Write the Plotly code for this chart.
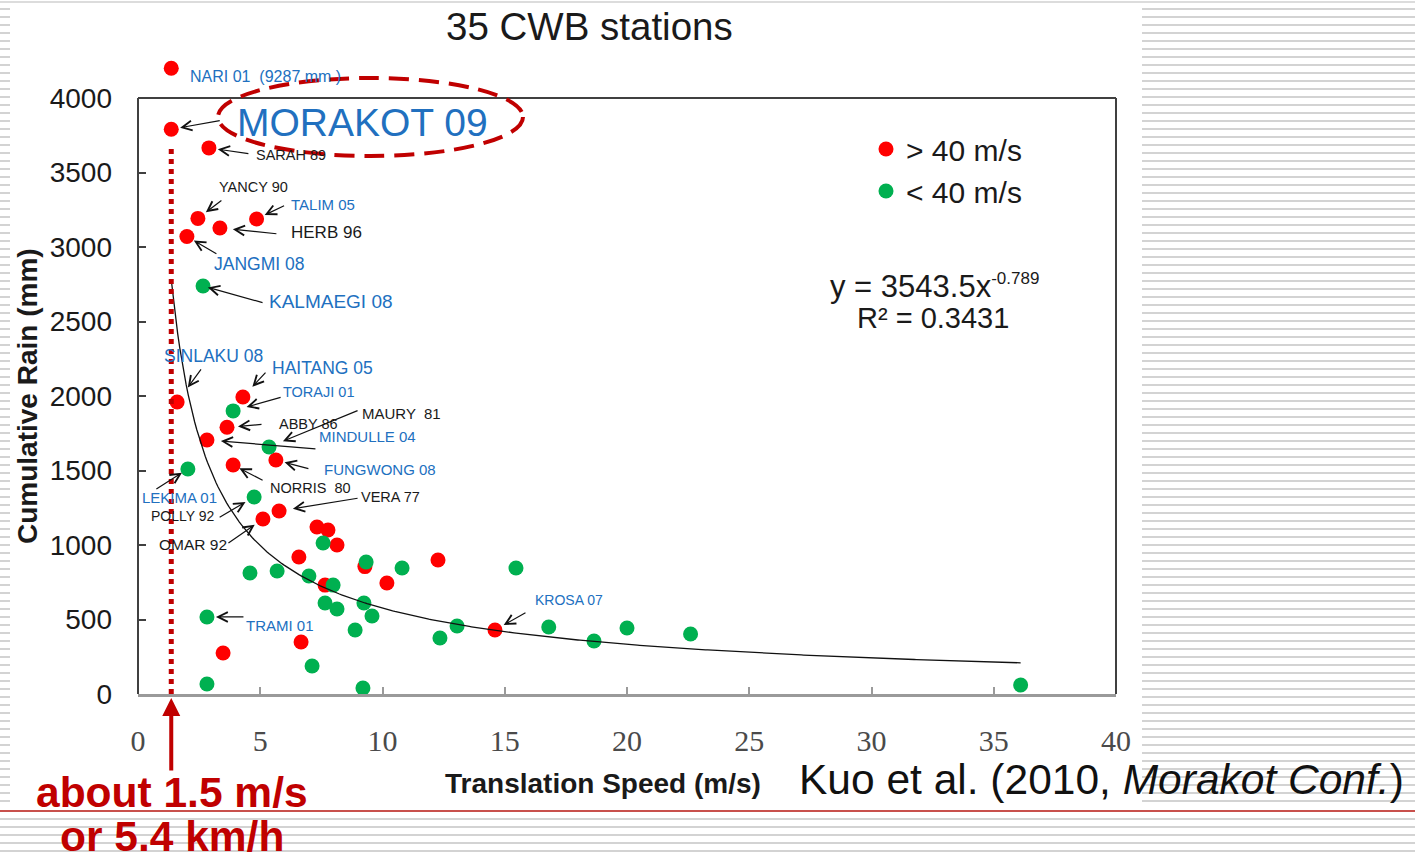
import numpy as np
import plotly.graph_objects as go

# ---------------- data ----------------
# typhoons with max wind > 40 m/s (red); NARI 01 is drawn off-scale just above the frame
red_speed = [1.36, 1.36, 2.9, 2.45, 4.85, 3.35, 2.0, 1.6, 4.29, 3.64, 2.82, 5.64, 3.89,
             5.77, 5.11, 7.32, 7.77, 8.14, 6.58, 9.28, 12.27, 7.65, 10.18, 6.67, 3.48, 14.6]
red_rain = [4200, 3790, 3665, 3192, 3188, 3128, 3070, 1960, 1993, 1790, 1705, 1570, 1537,
            1228, 1174, 1121, 1101, 1000, 919, 855, 899, 731, 745, 349, 275, 430]
red_name = ["NARI 01", "MORAKOT 09", "SARAH 89", "YANCY 90", "TALIM 05", "HERB 96",
            "JANGMI 08", "SINLAKU 08", "HAITANG 05", "ABBY 86", "MINDULLE 04",
            "FUNGWONG 08", "NORRIS  80", "VERA 77", "OMAR 92", "", "", "", "", "", "",
            "", "", "", "", "KROSA 07"]

# typhoons with max wind < 40 m/s (green)
green_speed = [2.66, 3.89, 5.36, 2.04, 4.75, 7.57, 9.33, 10.8, 4.58, 5.69, 6.99, 7.98,
               7.65, 8.14, 9.24, 9.57, 8.88, 2.82, 12.35, 13.05, 7.12, 2.82, 9.2, 15.46,
               16.8, 18.65, 20.0, 22.6, 36.1]
green_rain = [2738, 1900, 1658, 1510, 1322, 1013, 886, 846, 812, 826, 792, 731, 611, 570,
              611, 523, 430, 517, 376, 456, 188, 67, 40, 846, 450, 356, 443, 403, 60]
green_name = ["KALMAEGI 08", "TORAJI 01", "MAURY  81", "LEKIMA 01", "POLLY 92", "", "", "",
              "", "", "", "", "", "", "", "", "", "TRAMI 01", "", "", "", "", "", "", "",
              "", "", "", ""]

# power-law fit shown on the chart
FIT_A = 3543.5
FIT_B = -0.789
FIT_R2 = 0.3431

x_ticks = [0, 5, 10, 15, 20, 25, 30, 35, 40]
y_ticks = [0, 500, 1000, 1500, 2000, 2500, 3000, 3500, 4000]
Y_MAX_FRAME = 4000

# ---------------- layout geometry (pixels) ----------------
W, H = 1415, 854
L, R, T, B = 138, 1116, 98, 694      # frame of the chart (0..40, 0..4000)
TT = 38                               # plotting area extends above the frame (off-scale point)
Y_TOP = Y_MAX_FRAME * (B - TT) / (B - T)


def PX(x):
    return (x - L) / (R - L)


def PY(y):
    return (B - y) / (B - TT)


BLUE = "#2170BF"
BLACK = "#1a1a1a"
DRED = "#C00000"
SANS = "Liberation Sans, Arial, sans-serif"
SERIF = "Liberation Serif, Times New Roman, serif"

fig = go.Figure()

fig.add_trace(go.Scatter(
    x=red_speed, y=red_rain, mode="markers", name="> 40 m/s",
    marker=dict(color="#FF0000", size=15, line=dict(width=0)), cliponaxis=False))
fig.add_trace(go.Scatter(
    x=green_speed, y=green_rain, mode="markers", name="< 40 m/s",
    marker=dict(color="#00B050", size=15, line=dict(width=0)), cliponaxis=False))

all_speed = red_speed + green_speed
xs = np.linspace(min(all_speed), max(all_speed), 400)
fig.add_trace(go.Scatter(
    x=xs, y=FIT_A * xs ** FIT_B, mode="lines", showlegend=False,
    line=dict(color="#111111", width=1.3), hoverinfo="skip"))

# ---------------- annotations ----------------
ann = []
# label placement: key, text, left px, center y px, font size, colour
labels = [
    ("NARI 01", "NARI 01  (9287 mm )", 188, 76, 16, BLUE),
    ("SARAH 89", "SARAH 89", 254, 155, 14.5, BLACK),
    ("YANCY 90", "YANCY 90", 217, 187, 14.5, BLACK),
    ("TALIM 05", "TALIM 05", 289, 205, 15, BLUE),
    ("HERB 96", "HERB 96", 289, 232, 17, BLACK),
    ("JANGMI 08", "JANGMI 08", 212, 264, 17.5, BLUE),
    ("KALMAEGI 08", "KALMAEGI 08", 267, 301, 19, BLUE),
    ("SINLAKU 08", "SINLAKU 08", 162, 356, 17.5, BLUE),
    ("HAITANG 05", "HAITANG 05", 270, 368, 17.5, BLUE),
    ("TORAJI 01", "TORAJI 01", 281, 392, 14.5, BLUE),
    ("MAURY  81", "MAURY  81", 360, 413, 15, BLACK),
    ("ABBY 86", "ABBY 86", 277, 424, 14.5, BLACK),
    ("MINDULLE 04", "MINDULLE 04", 317, 436, 15, BLUE),
    ("FUNGWONG 08", "FUNGWONG 08", 322, 469, 15, BLUE),
    ("NORRIS  80", "NORRIS  80", 268, 488, 14.5, BLACK),
    ("VERA 77", "VERA 77", 359, 497, 14.5, BLACK),
    ("LEKIMA 01", "LEKIMA 01", 140, 497, 15, BLUE),
    ("POLLY 92", "POLLY 92", 149, 516, 14, BLACK),
    ("OMAR 92", "OMAR 92", 157, 544, 15.5, BLACK),
    ("TRAMI 01", "TRAMI 01", 244, 625, 15, BLUE),
    ("KROSA 07", "KROSA 07", 533, 600, 14, BLUE),
]
for key, text, lx, cy, size, col in labels:
    ann.append(dict(x=PX(lx), y=PY(cy), xref="paper", yref="paper", text=text,
                    showarrow=False, xanchor="left", yanchor="middle",
                    font=dict(family=SANS, size=size, color=col)))

# arrows: name -> (tail dx px, tail dy px, standoff px)
arrows = {
    "MORAKOT 09": (50, -9, 9),
    "SARAH 89": (41, 6, 9),
    "YANCY 90": (25, -19, 10),
    "TALIM 05": (29, -14, 9),
    "HERB 96": (58, 6, 13),
    "JANGMI 08": (31, 18, 8),
    "KALMAEGI 08": (61, 17, 5),
    "SINLAKU 08": (25, -34, 18),
    "HAITANG 05": (24, -26, 14),
    "TORAJI 01": (49, -14, 14),
    "MAURY  81": (90, -37, 15),
    "ABBY 86": (36, -3, 11),
    "MINDULLE 04": (110, 9, 14),
    "FUNGWONG 08": (34, 9, 9),
    "NORRIS  80": (31, 16, 7),
    "LEKIMA 01": (-33, 21, 7),
    "POLLY 92": (-36, 21, 10),
    "VERA 77": (80, -13, 14),
    "OMAR 92": (-36, 25, 10),
    "TRAMI 01": (38, 0, 9),
    "KROSA 07": (32, -18, 10),
}
points = {}
for n, sx, ry in zip(red_name, red_speed, red_rain):
    if n:
        points[n] = (sx, ry)
for n, sx, ry in zip(green_name, green_speed, green_rain):
    if n:
        points[n] = (sx, ry)
for name, (dx, dy, so) in arrows.items():
    sx, ry = points[name]
    ann.append(dict(x=sx, y=ry, xref="x", yref="y", text="", showarrow=True,
                    ax=dx, ay=dy, arrowhead=5, arrowsize=1.6, arrowwidth=1.2,
                    arrowcolor="#111111", standoff=so))

# title & big texts
ann += [
    dict(x=PX(589), y=PY(27), xref="paper", yref="paper", text="35 CWB stations",
         showarrow=False, xanchor="center", yanchor="middle",
         font=dict(family=SANS, size=38.5, color="#1a1a1a")),
    dict(x=PX(362), y=PY(123), xref="paper", yref="paper", text="MORAKOT 09",
         showarrow=False, xanchor="center", yanchor="middle",
         font=dict(family=SANS, size=39, color=BLUE)),
    dict(x=PX(934), y=PY(286), xref="paper", yref="paper",
         text=f"y = {FIT_A}x<sup><span style='font-size:17px'>{FIT_B}</span></sup>",
         showarrow=False, xanchor="center", yanchor="middle",
         font=dict(family=SANS, size=31, color="#1a1a1a")),
    dict(x=PX(933), y=PY(318), xref="paper", yref="paper",
         text=f"R² = {FIT_R2}",
         showarrow=False, xanchor="center", yanchor="middle",
         font=dict(family=SANS, size=29, color="#1a1a1a")),
    dict(x=PX(28), y=PY(396), xref="paper", yref="paper", text="<b>Cumulative Rain (mm)</b>",
         showarrow=False, xanchor="center", yanchor="middle", textangle=-90,
         font=dict(family=SANS, size=28, color="#1a1a1a")),
    dict(x=PX(603), y=PY(783), xref="paper", yref="paper", text="<b>Translation Speed (m/s)</b>",
         showarrow=False, xanchor="center", yanchor="middle",
         font=dict(family=SANS, size=28, color="#1a1a1a")),
    dict(x=PX(797), y=PY(779), xref="paper", yref="paper",
         text="Kuo et al. (2010, <i>Morakot Conf.</i>)",
         showarrow=False, xanchor="left", yanchor="middle",
         font=dict(family=SANS, size=42.5, color="#111111")),
    dict(x=PX(172), y=PY(792), xref="paper", yref="paper", text="<b>about 1.5 m/s</b>",
         showarrow=False, xanchor="center", yanchor="middle",
         font=dict(family=SANS, size=42.5, color=DRED)),
    dict(x=PX(172), y=PY(836), xref="paper", yref="paper", text="<b>or 5.4 km/h</b>",
         showarrow=False, xanchor="center", yanchor="middle",
         font=dict(family=SANS, size=42.5, color=DRED)),
    # red upward arrow below the axis
    dict(x=red_speed[1], y=PY(698), xref="x", yref="paper", text="", showarrow=True,
         ax=0, ay=74, arrowhead=2, arrowsize=0.9, arrowwidth=4, arrowcolor=DRED,
         standoff=0),
]

# ---------------- shapes ----------------
shapes = []


def stripe_path(x0, x1, y_start, y_end, step):
    parts = []
    yy = y_start
    while yy <= y_end:
        parts.append(f"M{PX(x0):.5f},{PY(yy):.5f}L{PX(x1):.5f},{PY(yy):.5f}")
        yy += step
    return "".join(parts)


stripe_line = dict(color="#d3d3d3", width=2)
shapes.append(dict(type="path", xref="paper", yref="paper", layer="below",
                   path=stripe_path(1142, W, 9, 805, 8), line=stripe_line))
shapes.append(dict(type="path", xref="paper", yref="paper", layer="below",
                   path=stripe_path(0, 10, 9, 805, 8), line=stripe_line))
shapes.append(dict(type="path", xref="paper", yref="paper", layer="below",
                   path=stripe_path(0, W, 819, 853, 8), line=stripe_line))
# top thin line
shapes.append(dict(type="line", xref="paper", yref="paper", layer="below",
                   x0=PX(0), x1=PX(W), y0=PY(2), y1=PY(2),
                   line=dict(color="#dcdcdc", width=2)))
# red separator line
shapes.append(dict(type="line", xref="paper", yref="paper", layer="above",
                   x0=PX(0), x1=PX(W), y0=PY(811), y1=PY(811),
                   line=dict(color="#C8504C", width=2)))
# frame (left, top, right)
frame = dict(color="#404040", width=2)
shapes.append(dict(type="line", xref="paper", yref="paper",
                   x0=0, x1=0, y0=0, y1=PY(T), line=frame))
shapes.append(dict(type="line", xref="paper", yref="paper",
                   x0=0, x1=1, y0=PY(T), y1=PY(T), line=frame))
shapes.append(dict(type="line", xref="paper", yref="paper",
                   x0=1, x1=1, y0=0, y1=PY(T), line=frame))
# dotted vertical line at Morakot's speed
shapes.append(dict(type="line", xref="x", yref="paper",
                   x0=red_speed[1], x1=red_speed[1], y0=0, y1=PY(145),
                   line=dict(color=DRED, width=5, dash="dot")))
# dashed ellipse around the MORAKOT label
shapes.append(dict(type="circle", xref="paper", yref="paper",
                   x0=PX(218), x1=PX(523), y0=PY(156), y1=PY(78),
                   line=dict(color=DRED, width=4, dash="20px,10px")))

fig.update_layout(
    width=W, height=H,
    margin=dict(l=L, r=W - R, t=TT, b=H - B, pad=0),
    paper_bgcolor="white", plot_bgcolor="white",
    font=dict(family=SANS, color="#1a1a1a"),
    showlegend=True,
    legend=dict(x=PX(866), y=PY(123), xanchor="left", yanchor="top",
                font=dict(family=SANS, size=30, color="#1a1a1a"),
                bgcolor="rgba(0,0,0,0)", borderwidth=0, tracegroupgap=0),
    xaxis=dict(range=[0, 40], tickvals=x_ticks, ticktext=[str(v) for v in x_ticks],
               showgrid=False, zeroline=False, showline=True, linecolor="#9a9a9a",
               linewidth=3, ticks="inside", ticklen=7, tickwidth=1.5, tickcolor="#9a9a9a",
               tickfont=dict(family=SERIF, size=30, color="#4a4a4a"),
               ticklabelstandoff=18, fixedrange=True),
    yaxis=dict(range=[0, Y_TOP], tickvals=y_ticks, ticktext=[str(v) for v in y_ticks],
               showgrid=False, zeroline=False, showline=False,
               ticks="inside", ticklen=8, tickwidth=1.5, tickcolor="#404040",
               tickfont=dict(family=SANS, size=28, color="#1a1a1a"),
               ticklabelstandoff=25, fixedrange=True),
    annotations=ann,
    shapes=shapes,
)

fig.write_html("out.html", config={"displayModeBar": False},
               post_script="document.body.style.margin='0';document.body.style.overflow='hidden';")
